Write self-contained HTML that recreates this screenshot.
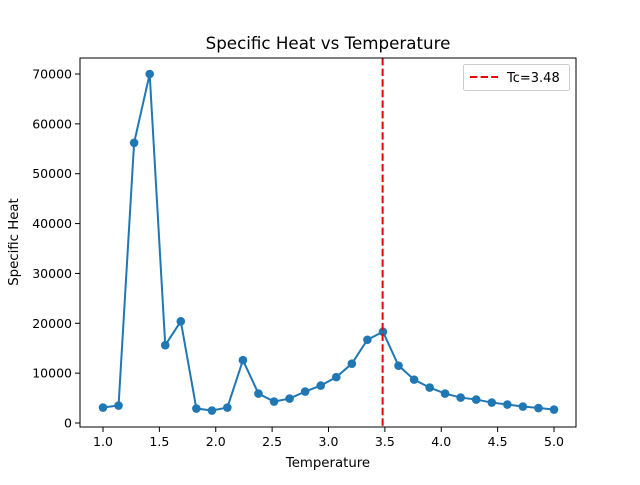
<!DOCTYPE html>
<html><head><meta charset="utf-8"><style>body{margin:0;background:#fff}svg{font-family:"DejaVu Sans","Liberation Sans",sans-serif}</style></head>
<body>
<svg id="c" width="640" height="480" xmlns="http://www.w3.org/2000/svg"></svg>
<script>
const temps=[1.0,1.138,1.276,1.414,1.552,1.69,1.828,1.966,2.103,2.241,2.379,2.517,2.655,2.793,2.931,3.069,3.207,3.345,3.483,3.621,3.759,3.897,4.034,4.172,4.31,4.448,4.586,4.724,4.862,5.0];
const heat=[3100,3500,56200,70000,15600,20400,2900,2500,3100,12600,5900,4300,4900,6300,7500,9200,11900,16700,18300,11500,8700,7100,5900,5100,4700,4100,3700,3300,3000,2700];
const xTicks=[1.0,1.5,2.0,2.5,3.0,3.5,4.0,4.5,5.0];
const yTicks=[0,10000,20000,30000,40000,50000,60000,70000];
const tc=3.48;
const L=80,R=576,T=58,B=427;
const x=v=>103+(v-1)*112.75;
const y=v=>423-v*349/70000;
const svg=document.getElementById('c');const NS='http://www.w3.org/2000/svg';
function mk(t,a,p){const e=document.createElementNS(NS,t);for(const k in a)e.setAttribute(k,a[k]);(p||svg).appendChild(e);return e;}
let e=mk('text',{x:328,y:49,'text-anchor':'middle','font-size':16.7});e.textContent='Specific Heat vs Temperature';


xTicks.forEach(v=>{mk('line',{x1:x(v),x2:x(v),y1:B,y2:B+5,stroke:'#000'});const t=mk('text',{x:x(v),y:B+19,'text-anchor':'middle','font-size':12.5});t.textContent=v.toFixed(1);

});
yTicks.forEach(v=>{mk('line',{x1:L-5,x2:L,y1:y(v),y2:y(v),stroke:'#000'});const t=mk('text',{x:L-8,y:y(v)+4.5,'text-anchor':'end','font-size':12.5});t.textContent=v;

});
e=mk('text',{x:328,y:467,'text-anchor':'middle','font-size':13.3});e.textContent='Temperature';


e=mk('text',{x:18,y:242,'text-anchor':'middle','font-size':13.3,transform:'rotate(-90 18 242)'});e.textContent='Specific Heat';


e=mk('polyline',{points:temps.map((t,i)=>x(t)+','+y(heat[i])).join(' '),fill:'none',stroke:'#1f77b4','stroke-width':2});


temps.forEach((t,i)=>{const c=mk('circle',{cx:x(t),cy:y(heat[i]),r:4.3,fill:'#1f77b4'});

});
e=mk('line',{x1:x(tc),x2:x(tc),y1:T,y2:B,stroke:'#e00','stroke-width':2,'stroke-dasharray':'7.4,3.2'});


e=mk('rect',{x:L,y:T,width:R-L,height:B-T,fill:'none',stroke:'#000','stroke-width':1});


const g=mk('g',{});


mk('rect',{x:463.5,y:64.5,width:106,height:26,rx:2,fill:'#fff',stroke:'#ccc'},g);
mk('line',{x1:470,x2:498,y1:77,y2:77,stroke:'#e00','stroke-width':2,'stroke-dasharray':'7.4,3.2'},g);
e=mk('text',{x:507,y:82,'font-size':13},g);e.textContent='Tc=3.48';


</script>
</body></html>
